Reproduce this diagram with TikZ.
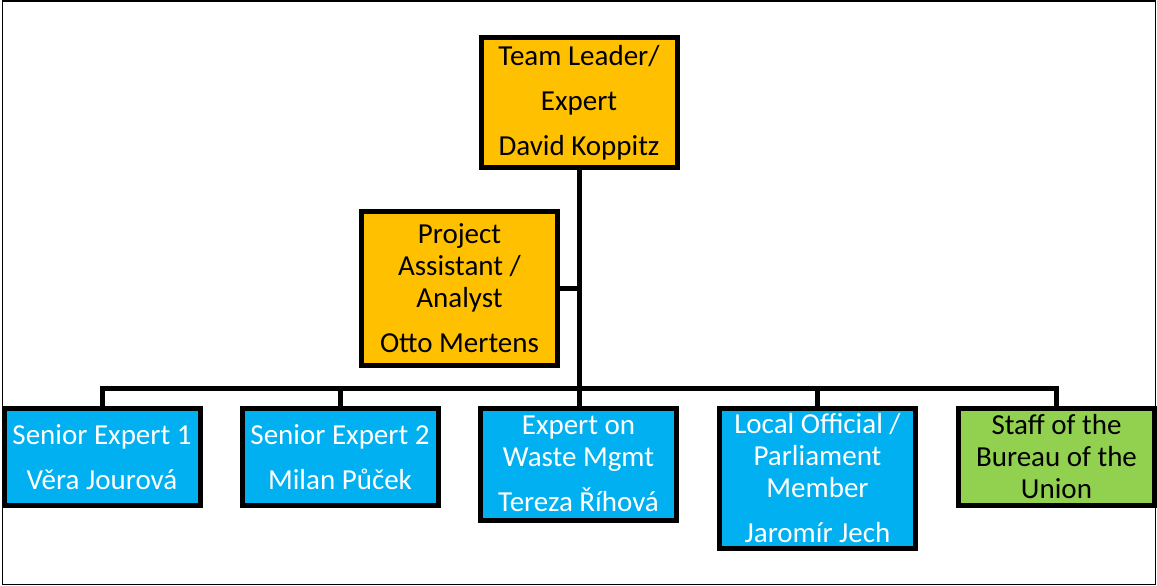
\documentclass[tikz,border=0pt]{standalone}
\usepackage{fontspec}
\setmainfont{Carlito}
\usepackage{tikz}

\definecolor{leadorange}{HTML}{FFC000}
\definecolor{staffblue}{HTML}{00B0F0}
\definecolor{unigreen}{HTML}{92D050}

\begin{document}
\begin{tikzpicture}[x=1pt,y=-1pt,
        box/.style={draw=black,line width=5pt,inner sep=0pt,align=center,
          font=\fontsize{29}{32}\selectfont,minimum width=196pt},
        lead/.style={box,fill=leadorange,text=black},
        expert/.style={box,fill=staffblue,text=white},
        union/.style={box,fill=unigreen,text=black},
        link/.style={line width=5pt}]
        \useasboundingbox (0,0) rectangle (1157,586);
        \draw[line width=1.5pt] (2.5,1) rectangle (1155.5,584.5);
        % top of the tree
        \node[lead,minimum height=130pt] (tl) at (579,102.5) {Team Leader/\\[13pt]Expert\\[13pt]David Koppitz};
        \node[lead,minimum height=154pt] (pa) at (459.5,288.5) {Project\\Assistant /\\Analyst\\[13pt]Otto Mertens};
        % bottom row
        \node[expert,minimum height=97pt] (se1) at (102,457) {Senior Expert 1\\[13pt]V\v{e}ra Jourov\'a};
        \node[expert,minimum height=97pt] (se2) at (340,457) {Senior Expert 2\\[13pt]Milan P\r{u}\v{c}ek};
        \node[expert,minimum height=112pt] (ew) at (578.5,464) {Expert on\\Waste Mgmt\\[13pt]Tereza \v{R}\'ihov\'a};
        \node[expert,minimum height=140pt] (lo) at (817.5,478.5) {Local Official /\\Parliament\\Member\\[13pt]Jarom\'ir Jech};
        \node[union,minimum height=97pt] (sb) at (1056.5,457) {Staff of the\\Bureau of the\\Union};
        \coordinate (bus) at (0,388);
        % connectors
        \draw[link] (tl.south) -- (tl.south |- ew.north);
        \draw[link] (pa.east) -- (pa.east -| tl.south);
        \draw[link] (se1.north) |- (bus -| sb.north) -- (sb.north);
        \draw[link] (se2.north) -- (se2.north |- bus);
        \draw[link] (lo.north) -- (lo.north |- bus);
\end{tikzpicture}
\end{document}
